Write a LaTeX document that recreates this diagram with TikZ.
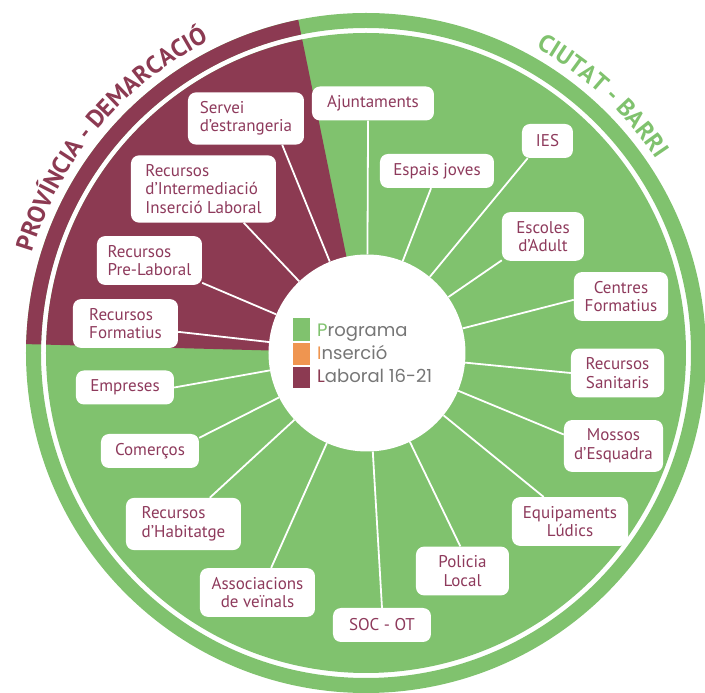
\documentclass[tikz,border=0pt]{standalone}
\usepackage{fontspec}
\setmainfont{PT Sans}
\newfontfamily\logofont{Poppins}
\usepackage{xcolor}
\usepackage{tikz}
\usetikzlibrary{decorations.text}

\definecolor{pgreen}{HTML}{80C26E}
\definecolor{pmaroon}{HTML}{8C3A52}
\definecolor{ptext}{HTML}{8E3A5C}
\definecolor{porange}{HTML}{EF9550}
\definecolor{pgrey}{HTML}{767676}

\begin{document}
\begin{tikzpicture}[x=1pt, y=1pt, font=\fontsize{17}{18.5}\selectfont]
	\tikzstyle{box} = [fill=white, rounded corners=8pt, text=ptext, align=center, inner xsep=0pt, inner ysep=9pt, minimum height=34pt]
	\tikzstyle{logo} = [anchor=base west, inner sep=0pt, text=pgrey, font=\logofont\fontsize{18}{18}\selectfont]
	\tikzstyle{link} = [draw=white, line width=1.8pt]
	\useasboundingbox (-366, -340) rectangle (339, 353);

	% disk and outer ring
	\fill[pgreen] (0, 0) circle (320);
	\fill[pmaroon] (0, 0) -- (101.5:320) arc (101.5:178.5:320) -- cycle;
	\fill[pgreen, even odd rule] (0, 0) circle (340) (0, 0) circle (325);
	\fill[pmaroon] (101.5:340) arc (101.5:178.5:340) -- (178.5:325) arc (178.5:101.5:325) -- cycle;

	% ring titles
	\path[decorate, decoration={text along path, text align=center, text color=pmaroon,
		text={|\bfseries\fontsize{24.5}{24.5}\selectfont|PROVÍNCIA - DEMARCACIÓ}}] (172:349) arc (172:108:349);
	\path[decorate, decoration={text along path, text align=center, text color=pgreen,
		text={|\bfseries\fontsize{24.5}{24.5}\selectfont|CIUTAT - BARRI}}] (78:349) arc (78:16.6:349);

	% centre
	\node[circle, fill=white, minimum size=197pt, inner sep=0pt]	at (1, 0)	(hub)	{};
	\fill[pgreen]	(-73, 12) rectangle (-56, 35);
	\fill[porange]	(-73, -12) rectangle (-56, 10);
	\fill[pmaroon]	(-73, -35) rectangle (-56, -14);
	\node[logo]		at (-49, 16)	(lp)	{\textcolor{pgreen}{P}rograma};
	\node[logo]		at (-49, -7)	(li)	{\textcolor{porange}{I}nserció};
	\node[logo]		at (-49, -30)	(ll)	{\textcolor{pmaroon}{L}aboral 16-21};

	% boxes
	\node[box, minimum width=116pt, align=left]	at (-120, 234.5)	(serv)	{Servei\\d'estrangeria};
	\node[box, minimum width=145pt, align=left]	at (-162.5, 164)	(rii)	{Recursos\\d'Intermediació\\Inserció Laboral};
	\node[box, minimum width=105pt, align=left]	at (-216.5, 92.5)	(rpl)	{Recursos\\Pre-Laboral};
	\node[box, minimum width=105pt, align=left]	at (-240.5, 29.5)	(rf)	{Recursos\\Formatius};
	\node[box, minimum width=122pt]				at (7, 249.5)		(aj)	{Ajuntaments};
	\node[box, minimum width=114pt]				at (71, 182)		(ej)	{Espais joves};
	\node[box, minimum width=51pt]				at (181.5, 212)		(ies)	{IES};
	\node[box, minimum width=82pt]				at (177, 116.5)		(ea)	{Escoles\\d'Adult};
	\node[box, minimum width=94pt]				at (255, 56.5)		(cf)	{Centres\\Formatius};
	\node[box, minimum width=93pt]				at (251.5, -20)		(rs)	{Recursos\\Sanitaris};
	\node[box, minimum width=99pt]				at (247.5, -93)		(me)	{Mossos\\d'Esquadra};
	\node[box, minimum width=116pt]				at (204, -168.5)	(eq)	{Equipaments\\Lúdics};
	\node[box, minimum width=93pt]				at (96.5, -218)		(pl)	{Policia\\Local};
	\node[box, minimum width=98pt]				at (16, -272)		(soc)	{SOC - OT};
	\node[box, minimum width=98pt]				at (-241, -34.5)	(emp)	{Empreses};
	\node[box, minimum width=98pt]				at (-216, -98)		(com)	{Comerços};
	\node[box, minimum width=115pt, align=left]	at (-182.5, -171)	(rh)	{Recursos\\d'Habitatge};
	\node[box, minimum width=115pt]				at (-108.5, -239.5)	(av)	{Associacions\\de veïnals};

	\path[link]
	(hub)	edge	(serv.-36)
	(hub)	edge	(rii.-40)
	(hub)	edge	(rpl.-23)
	(hub)	edge	(rf.-9)
	(hub)	edge	(aj.-106)
	(hub)	edge	(ej.-109)
	(hub)	edge	(ies.-139)
	(hub)	edge	(ea.-150)
	(hub)	edge	(cf.-176)
	(hub)	edge	(rs.west)
	(hub)	edge	(me.167)
	(hub)	edge	(eq.137)
	(hub)	edge	(pl.95)
	(hub)	edge	(soc.north)
	(hub)	edge	(emp.east)
	(hub)	edge	(com.15)
	(hub)	edge	(rh.45)
	(hub)	edge	(av.61);
\end{tikzpicture}
\end{document}
